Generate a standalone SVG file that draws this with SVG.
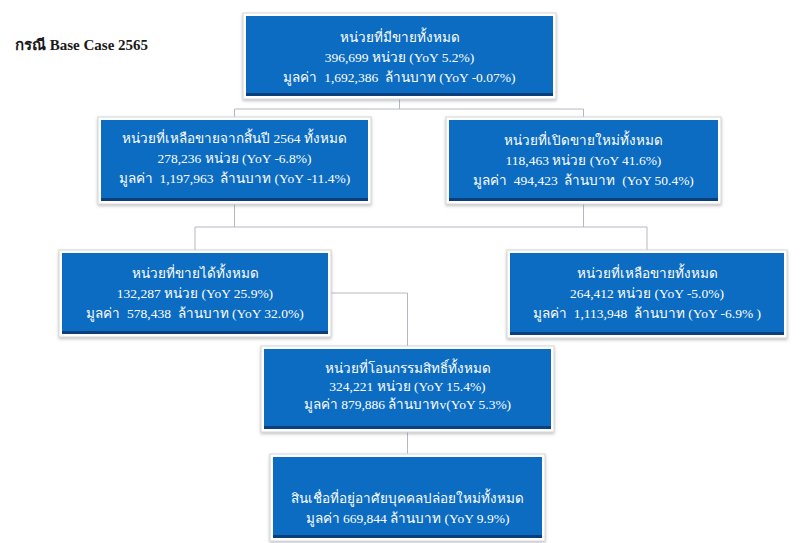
<svg xmlns="http://www.w3.org/2000/svg" width="800" height="543" viewBox="0 0 800 543">
<style>
.frame{fill:#ffffff;stroke:#d4d6da;stroke-width:1;filter:url(#sh)}
.body{fill:#0b6cc2}
.band{fill:#0a3f7c}
.t{font-family:"Liberation Serif","DejaVu Serif",serif;font-size:13.5px;fill:#ffffff;text-anchor:middle;white-space:pre}
.title{font-family:"Liberation Serif","DejaVu Serif",serif;font-size:15px;font-weight:bold;fill:#1a1a1a;white-space:pre}
.conn{fill:none;stroke:#b4b8c4;stroke-width:1}
</style>
<defs>
<filter id="sh" x="-10%" y="-10%" width="120%" height="130%">
<feDropShadow dx="0" dy="1.5" stdDeviation="1.5" flood-color="#777" flood-opacity="0.45"/>
</filter>
</defs>
<rect x="0" y="0" width="800" height="543" fill="#ffffff"/>
<text class="title" x="15" y="50">กรณี Base Case 2565</text>
<g id="connectors">
<path class="conn" d="M399.5 99 V109 M234.5 109 H583.5 M234.5 109 V117 M583.5 109 V117"/>
<path class="conn" d="M234.5 204 V227 M583.5 204 V227 M195 227 H647 M195 227 V250 M647 227 V250"/>
<path class="conn" d="M331 293 H407.5 V346"/>
<path class="conn" d="M407.5 432 V454"/>
</g>
<g id="n1">
<rect class="frame" x="243" y="13" width="313" height="86"/>
<rect class="body" x="246" y="16" width="307" height="80"/>
<rect class="band" x="246" y="93" width="307" height="3"/>
<text class="t" x="399.5" y="41.5">หน่วยที่มีขายทั้งหมด</text>
<text class="t" x="399.5" y="61.5">396,699 หน่วย (YoY 5.2%)</text>
<text class="t" x="399.5" y="81.5">มูลค่า  1,692,386  ล้านบาท (YoY -0.07%)</text>
</g>
<g id="n2">
<rect class="frame" x="98" y="117" width="273" height="87"/>
<rect class="body" x="101" y="120" width="267" height="81"/>
<rect class="band" x="101" y="198" width="267" height="3"/>
<text class="t" x="234.5" y="142.5">หน่วยที่เหลือขายจากสิ้นปี 2564 ทั้งหมด</text>
<text class="t" x="234.5" y="162.5">278,236 หน่วย (YoY -6.8%)</text>
<text class="t" x="234.5" y="183">มูลค่า  1,197,963  ล้านบาท (YoY -11.4%)</text>
</g>
<g id="n3">
<rect class="frame" x="446" y="117" width="275" height="87"/>
<rect class="body" x="449" y="120" width="269" height="81"/>
<rect class="band" x="449" y="198" width="269" height="3"/>
<text class="t" x="583.5" y="144.5">หน่วยที่เปิดขายใหม่ทั้งหมด</text>
<text class="t" x="583.5" y="164.5">118,463 หน่วย (YoY 41.6%)</text>
<text class="t" x="583.5" y="185">มูลค่า  494,423  ล้านบาท  (YoY 50.4%)</text>
</g>
<g id="n4">
<rect class="frame" x="59" y="250" width="272" height="87"/>
<rect class="body" x="62" y="253" width="266" height="81"/>
<rect class="band" x="62" y="331" width="266" height="3"/>
<text class="t" x="195" y="277.5">หน่วยที่ขายได้ทั้งหมด</text>
<text class="t" x="195" y="297.5">132,287 หน่วย (YoY 25.9%)</text>
<text class="t" x="195" y="317.5">มูลค่า  578,438  ล้านบาท (YoY 32.0%)</text>
</g>
<g id="n5">
<rect class="frame" x="507" y="250" width="280" height="88"/>
<rect class="body" x="510" y="253" width="274" height="82"/>
<rect class="band" x="510" y="332" width="274" height="3"/>
<text class="t" x="647" y="277.5">หน่วยที่เหลือขายทั้งหมด</text>
<text class="t" x="647" y="297.5">264,412 หน่วย (YoY -5.0%)</text>
<text class="t" x="647" y="317.5">มูลค่า  1,113,948  ล้านบาท (YoY -6.9% )</text>
</g>
<g id="n6">
<rect class="frame" x="261" y="346" width="293" height="86"/>
<rect class="body" x="264" y="349" width="287" height="80"/>
<rect class="band" x="264" y="426" width="287" height="3"/>
<text class="t" x="407.5" y="372.5">หน่วยที่โอนกรรมสิทธิ์ทั้งหมด</text>
<text class="t" x="407.5" y="390.5">324,221 หน่วย (YoY 15.4%)</text>
<text class="t" x="407.5" y="408.5">มูลค่า 879,886 ล้านบาทv(YoY 5.3%)</text>
</g>
<g id="n7">
<rect class="frame" x="270" y="454" width="275" height="87"/>
<rect class="body" x="273" y="457" width="269" height="81"/>
<rect class="band" x="273" y="535" width="269" height="3"/>
<text class="t" x="407.5" y="503">สินเชื่อที่อยู่อาศัยบุคคลปล่อยใหม่ทั้งหมด</text>
<text class="t" x="407.5" y="523">มูลค่า 669,844 ล้านบาท (YoY 9.9%)</text>
</g>
</svg>
